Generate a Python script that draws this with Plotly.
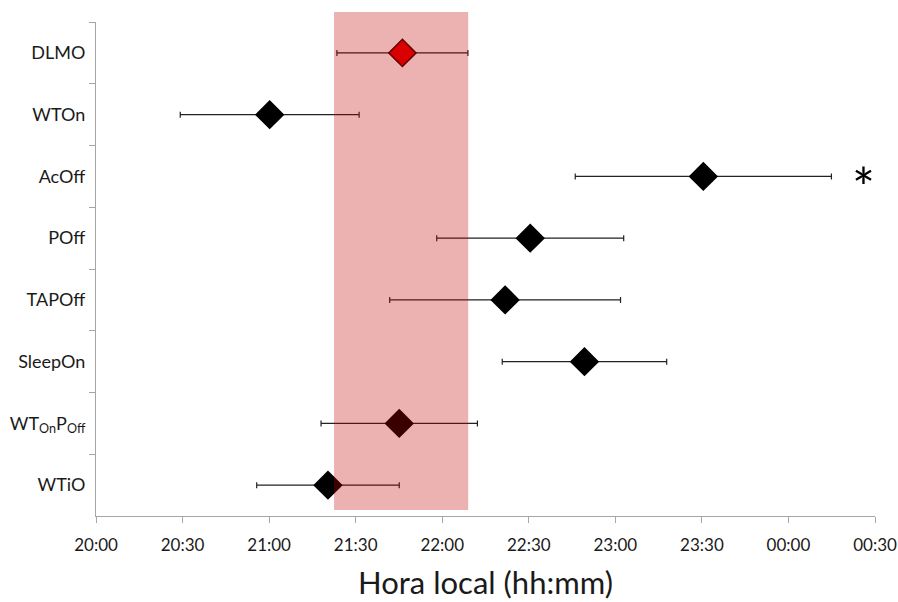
import plotly.graph_objects as go

# Categories (top to bottom)
categories = ["DLMO", "WTOn", "AcOff", "POff", "TAPOff", "SleepOn",
              "WT<sub>On</sub>P<sub>Off</sub>", "WTiO"]
# Mean time, minutes after 20:00
mean_min = [106.2, 60.2, 210.5, 150.5, 141.8, 169.3, 105.1, 80.4]
# Error (SD) in minutes
sd_min = [22.7, 31.0, 44.4, 32.4, 40.0, 28.5, 27.1, 24.7]
# Marker colours
marker_fill = ["#E60000", "black", "black", "black", "black", "black", "black", "black"]
marker_line = ["#3A0000", "black", "black", "black", "black", "black", "black", "black"]

# Shaded band (minutes after 20:00)
band_start = 82.5
band_end = 129.0

# X tick labels
tick_vals = [0, 30, 60, 90, 120, 150, 180, 210, 240, 270]
tick_text = ["20:00", "20:30", "21:00", "21:30", "22:00", "22:30",
             "23:00", "23:30", "00:00", "00:30"]

# Significance marker
star_x = 266
star_cat = "AcOff"

FONT = "Lato, 'Open Sans', sans-serif"

fig = go.Figure()
fig.add_trace(go.Scatter(
    x=mean_min, y=categories, mode="markers",
    marker=dict(symbol="diamond", size=21, color=marker_fill,
                line=dict(color=marker_line, width=1.5)),
    error_x=dict(type="data", array=sd_min, visible=True,
                 color="#222222", thickness=1.2, width=3),
    showlegend=False, hoverinfo="skip",
))

fig.add_shape(type="rect", xref="x", yref="paper",
              x0=band_start, x1=band_end, y0=0.012, y1=1.02,
              fillcolor="rgba(192,0,0,0.3)", line=dict(width=0),
              layer="above")

fig.add_annotation(x=star_x, y=star_cat, xref="x", yref="y",
                   text="*", showarrow=False,
                   font=dict(family=FONT, size=54, color="black"),
                   yshift=-10)

fig.update_layout(
    width=898, height=602,
    margin=dict(l=96, r=23, t=22, b=86, autoexpand=False),
    plot_bgcolor="white", paper_bgcolor="white",
    font=dict(family=FONT, color="#1a1a1a"),
    xaxis=dict(range=[0, 270], tickvals=tick_vals, ticktext=tick_text,
               automargin=False, ticklabeloverflow="allow",
               showgrid=False, zeroline=False, showline=True,
               linecolor="#A6A6A6", linewidth=1.2,
               ticks="outside", ticklen=6, tickcolor="#A6A6A6",
               ticklabelstandoff=7,
               tickfont=dict(size=17, family=FONT, color="#1a1a1a"),
               title=dict(text="Hora local (hh:mm)",
                          font=dict(size=31, family=FONT, color="#1a1a1a"),
                          standoff=18)),
    yaxis=dict(type="category", categoryorder="array",
               categoryarray=categories, range=[7.5, -0.5],
               automargin=False,
               showgrid=False, zeroline=False, showline=True,
               linecolor="#A6A6A6", linewidth=1.2,
               ticks="outside", ticklen=6, tickcolor="#A6A6A6",
               tickson="boundaries", ticklabelstandoff=6,
               tickfont=dict(size=18, family=FONT, color="#1a1a1a")),
)

fig.write_html("out.html")
